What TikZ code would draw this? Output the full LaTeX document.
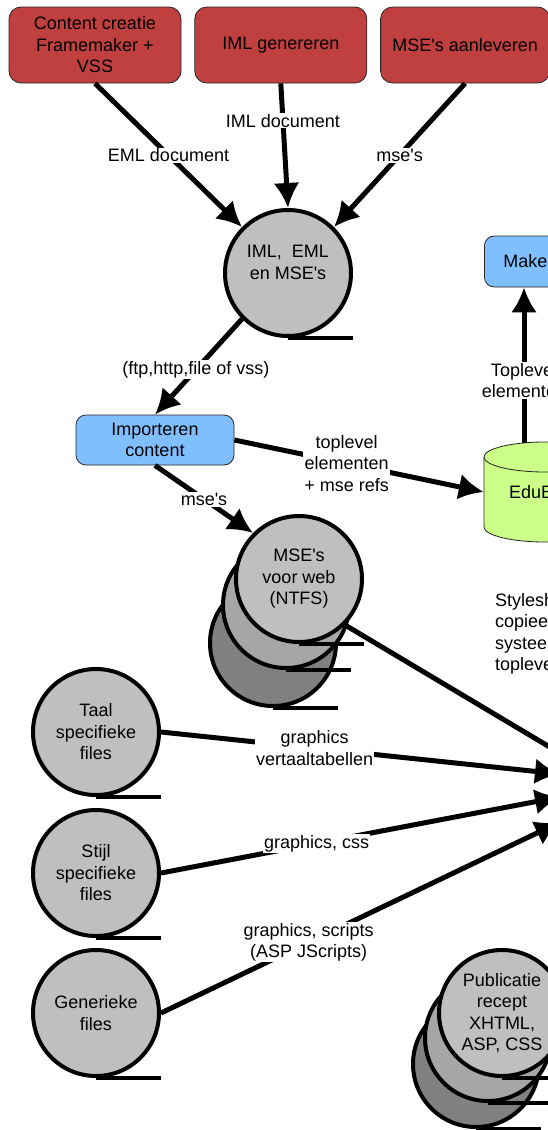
\documentclass[tikz,border=0pt]{standalone}
\usepackage{fontspec}
\setmainfont{Liberation Sans}[Ligatures=TeXOff]
\usetikzlibrary{arrows.meta, positioning}

\definecolor{rood}{RGB}{192,64,64}
\definecolor{blauw}{RGB}{128,191,255}
\definecolor{groen}{RGB}{204,255,136}
\definecolor{grijs}{RGB}{191,191,191}
\definecolor{grijsmid}{RGB}{166,166,166}
\definecolor{grijsdonker}{RGB}{128,128,128}

\tikzset{
  stap/.style={rectangle, rounded corners=12pt, draw=black!85, line width=0.8pt,
    fill=rood, minimum width=172pt, minimum height=76pt, align=center, inner sep=2pt},
  proces/.style={rectangle, rounded corners=10pt, draw=black!85, line width=0.8pt,
    fill=blauw, minimum height=51pt, align=center},
  opslag/.style={circle, draw, line width=4pt, fill=grijs, minimum size=126pt,
    inner sep=0pt, align=center},
  staart/.style={line width=4.5pt},
  pijl/.style={-{Latex[length=25pt,width=26pt]}, line width=5pt},
  etiket/.style={fill=white, inner sep=1pt, align=center},
}

\begin{document}
\begin{tikzpicture}[x=1pt, y=-1pt, font=\fontsize{18}{21.5}\selectfont]
    \useasboundingbox (0,0) rectangle (548,1130);
    \clip (0,0) rectangle (548,1130);

    % 1. Aanlevering (rode blokken)
    \node[stap] (bron) at (95,45) {Content creatie\\Framemaker +\\VSS};
    \node[stap, right=13pt of bron] (iml) {IML genereren};
    \node[stap, minimum width=169pt, right=13pt of iml] (mse) {MSE's aanleveren};

    % 2. Verzameling
    \node[opslag] (verz) at (288,273) {IML,\ \ EML\\en MSE's\\\mbox{}};
    \draw[staart] (verz.south) -- ++(65,0);

    % 3. Import en EduBase
    \node[proces, minimum width=158pt, minimum height=50pt] (imp) at (155,440) {Importeren\\content};
    \draw[fill=groen, draw=black!85, line width=0.8pt] (484,457) -- (484,527)
        arc[start angle=180, end angle=0, x radius=61, y radius=15] -- (606,457)
        arc[start angle=0, end angle=-180, x radius=61, y radius=15] -- cycle;
    \draw[draw=black!85, line width=0.8pt] (484,457)
        arc[start angle=180, end angle=0, x radius=61, y radius=15];
    \node[text width=72pt, inner xsep=25pt, inner ysep=0pt, minimum height=100pt,
        align=left] (edu) at (545,492) {EduB};
    \coordinate (eduTop) at (524,443);
    \node[proces, anchor=west, text width=122pt, inner xsep=19pt, align=left]
        (maak) at (484,261.5) {Make};

    % 4. MSE's voor web (stapel)
    \node[opslag, fill=grijsdonker] (mseC) at (273,643) {};
    \draw[staart] (mseC.south) -- ++(65,0);
    \node[opslag, fill=grijsmid] (mseB) at (286,605) {};
    \draw[staart] (mseB.south) -- ++(65,0);
    \node[opslag] (mseA) at (299,579) {MSE's\\voor web\\(NTFS)};
    \draw[staart] (mseA.south) -- ++(65,0);

    % 5. Losse bestanden
    \foreach \naam/\y/\tekst in {taal/732/{Taal\\specifieke\\files},
        stijl/873/{Stijl\\specifieke\\files}, gen/1013/{Generieke\\files}} {
        \node[opslag] (\naam) at (96,\y) {\tekst};
        \draw[staart] (\naam.south) -- ++(65,0);
    }

    % 6. Publicatierecept (stapel)
    \node[opslag, fill=grijsdonker] (pubC) at (476,1064) {};
    \draw[staart] (pubC.south) -- ++(65,0);
    \node[opslag, fill=grijsmid] (pubB) at (488,1038) {};
    \draw[staart] (pubB.south) -- ++(65,0);
    \node[opslag] (pubA) at (502,1013) {Publicatie\\recept\\XHTML,\\ASP, CSS};
    \draw[staart] (pubA.south) -- ++(65,0);

    \node[anchor=west, align=left, inner sep=0pt] (stijlblad) at (495,634)
        {Stylesh\\copiee\\systee\\topleve};

    % 7. Verbindingen
    \coordinate (doelM) at (600,777);
    \coordinate (doelT) at (560,774);
    \coordinate (doelS) at (560,797);
    \coordinate (doelG) at (560,822);

    \draw[pijl] (bron.south) -- node[etiket] {EML document} (verz.135);
    \draw[pijl] (iml.south) -- node[etiket, pos=0.3] {IML document} (verz.north);
    \draw[pijl] (mse.south) -- node[etiket] {mse's} (verz.45);
    \draw[pijl] (verz.225) -- node[etiket, pos=0.53] {(ftp,http,file of vss)} (imp.north);
    \draw[pijl] (imp.east) -- node[etiket, pos=0.45] {toplevel\\elementen\\+ mse refs} (edu.west);
    \draw[pijl] (imp.south) -- node[etiket] {mse's} (mseA.135);
    \draw[pijl] (eduTop) -- node[etiket, pos=0.4] {Toplevel\\elementen} (eduTop |- maak.south);
    \draw[pijl] (mseA.-45) -- (doelM);
    \draw[pijl] (taal.east) -- node[etiket, pos=0.385] {graphics\\vertaaltabellen} (doelT);
    \draw[pijl] (stijl.east) -- node[etiket, pos=0.39] {graphics, css} (doelS);
    \draw[pijl] (gen.east) -- node[etiket, pos=0.37] {graphics, scripts\\(ASP JScripts)} (doelG);
\end{tikzpicture}
\end{document}
